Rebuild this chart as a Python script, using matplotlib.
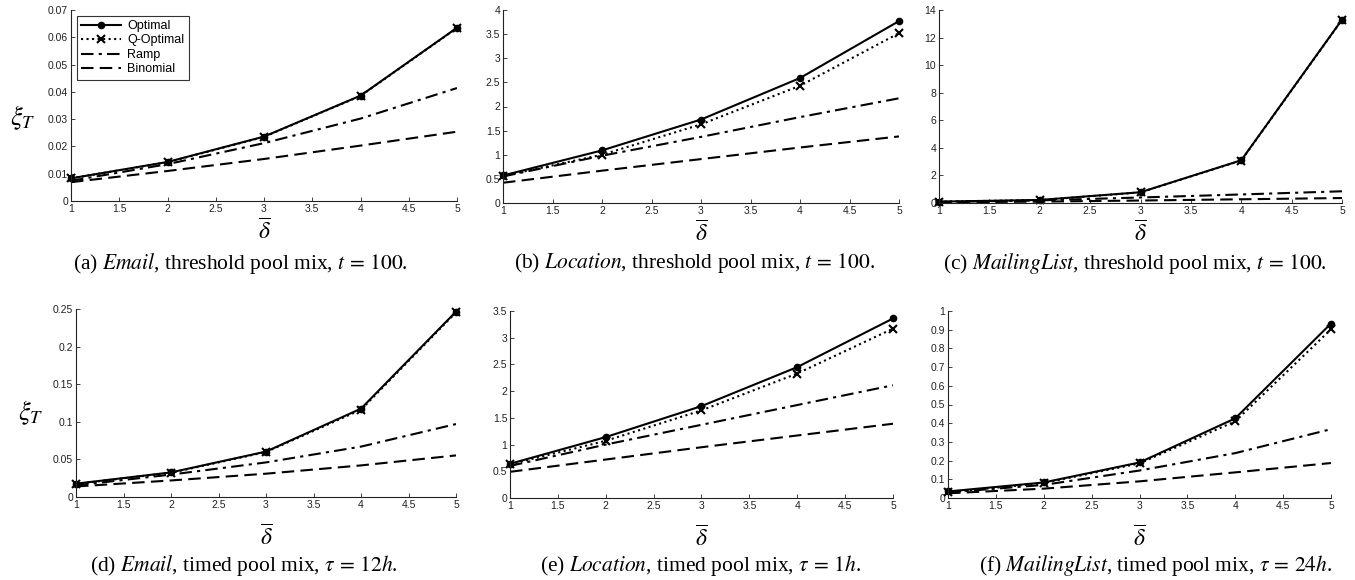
## xi_T versus delta-bar, six panels (threshold / timed pool mix)

import numpy as np
import matplotlib
matplotlib.use("Agg")
import matplotlib.pyplot as plt
from matplotlib.ticker import FormatStrFormatter, MultipleLocator

plt.rcParams['font.family'] = ['Liberation Sans', 'DejaVu Sans']
plt.rcParams['mathtext.fontset'] = 'stix'

delta = [1, 2, 3, 4, 5]
labels = ['Optimal', 'Q-Optimal', 'Ramp', 'Binomial']

# (a) Email, threshold
a_opt = [0.0083, 0.0143, 0.0236, 0.0386, 0.0635]
a_qopt = [0.0083, 0.0142, 0.0235, 0.0385, 0.0634]
a_ramp = [0.0074, 0.0135, 0.0212, 0.0302, 0.0414]
a_bin = [0.0069, 0.0110, 0.0154, 0.0203, 0.0254]

# (b) Location, threshold
b_opt = [0.57, 1.09, 1.73, 2.59, 3.77]
b_qopt = [0.56, 1.00, 1.63, 2.43, 3.52]
b_ramp = [0.55, 0.98, 1.37, 1.78, 2.17]
b_bin = [0.42, 0.67, 0.91, 1.15, 1.38]

# (c) MailingList, threshold
c_opt = [0.10, 0.22, 0.78, 3.10, 13.30]
c_qopt = [0.10, 0.21, 0.77, 3.08, 13.28]
c_ramp = [0.08, 0.19, 0.40, 0.62, 0.85]
c_bin = [0.05, 0.10, 0.18, 0.27, 0.36]

# (d) Email, timed
d_opt = [0.0177, 0.0327, 0.0604, 0.1175, 0.2465]
d_qopt = [0.0174, 0.0322, 0.0598, 0.1160, 0.2455]
d_ramp = [0.0155, 0.0298, 0.0460, 0.0670, 0.0970]
d_bin = [0.0140, 0.0220, 0.0310, 0.0420, 0.0553]

# (e) Location, timed
e_opt = [0.64, 1.14, 1.72, 2.45, 3.36]
e_qopt = [0.63, 1.07, 1.64, 2.33, 3.17]
e_ramp = [0.60, 1.00, 1.37, 1.74, 2.11]
e_bin = [0.49, 0.72, 0.95, 1.17, 1.39]

# (f) MailingList, timed
f_opt = [0.035, 0.083, 0.190, 0.426, 0.933]
f_qopt = [0.030, 0.080, 0.185, 0.410, 0.902]
f_ramp = [0.030, 0.070, 0.147, 0.240, 0.368]
f_bin = [0.025, 0.050, 0.089, 0.137, 0.187]

captions = [
    r'(a) $\mathit{Email}$, threshold pool mix, $t\,=\,100$.',
    r'(b) $\mathit{Location}$, threshold pool mix, $t\,=\,100$.',
    r'(c) $\mathit{MailingList}$, threshold pool mix, $t\,=\,100$.',
    r'(d) $\mathit{Email}$, timed pool mix, $\tau\,=\,12h$.',
    r'(e) $\mathit{Location}$, timed pool mix, $\tau\,=\,1h$.',
    r'(f) $\mathit{MailingList}$, timed pool mix, $\tau\,=\,24h$.',
]
ylims = [0.07, 4, 14, 0.25, 3.5, 1]
ysteps = [0.01, 0.5, 2, 0.05, 0.5, 0.1]
series = [
    (a_opt, a_qopt, a_ramp, a_bin),
    (b_opt, b_qopt, b_ramp, b_bin),
    (c_opt, c_qopt, c_ramp, c_bin),
    (d_opt, d_qopt, d_ramp, d_bin),
    (e_opt, e_qopt, e_ramp, e_bin),
    (f_opt, f_qopt, f_ramp, f_bin),
]

W, H = 1355.0, 580.0
# axes boxes in pixels: left, top, right, bottom
boxes = [
    (71, 10, 457, 201), (503, 10, 899, 203), (939, 10, 1342, 203),
    (76, 309, 456, 497), (510, 311, 893, 498), (948, 311, 1331, 498),
]
cap_x = [240, 695, 1135, 244, 700, 1156]

fig = plt.figure(figsize=(W / 100, H / 100), dpi=100)

for i in range(6):
    l, t, r, b = boxes[i]
    ax = fig.add_axes([l / W, 1 - b / H, (r - l) / W, (b - t) / H])
    opt, qopt, ramp, binom = series[i]
    ax.plot(delta, opt, '-', color='k', lw=1.5, marker='o', ms=4.5, clip_on=False, label=labels[0])
    ax.plot(delta, qopt, ':', color='k', lw=1.5, marker='x', ms=5.5, mew=1.5, clip_on=False, label=labels[1])
    ax.plot(delta, ramp, color='k', lw=1.5, dashes=(6, 2.5, 1.5, 2.5), label=labels[2])
    ax.plot(delta, binom, color='k', lw=1.5, dashes=(6, 3), label=labels[3])

    ax.set_xlim(1, 5)
    ax.set_ylim(0, ylims[i])
    ax.xaxis.set_major_locator(MultipleLocator(0.5))
    ax.yaxis.set_major_locator(MultipleLocator(ysteps[i]))
    ax.xaxis.set_major_formatter(FormatStrFormatter('%g'))
    ax.yaxis.set_major_formatter(FormatStrFormatter('%g'))
    ax.tick_params(direction='in', length=3, width=0.6, labelsize=7.5, pad=2, colors='#222222')
    for s in ['top', 'right']:
        ax.spines[s].set_visible(False)
    for s in ['left', 'bottom']:
        ax.spines[s].set_linewidth(0.8)
        ax.spines[s].set_color('#222222')

    if i < 3:
        ax.set_xlabel(r'$\overline{\delta}$', fontsize=17, labelpad=4)
        cy = 263
    else:
        ax.set_xlabel(r'$\overline{\delta}$', fontsize=17, labelpad=11)
        cy = 566
    fig.text(cap_x[i] / W, 1 - cy / H, captions[i], ha='center', va='center',
             fontsize=15.5, family='Liberation Serif')

    if i == 0:
        leg = ax.legend(loc='upper left', fontsize=9, handlelength=3.2, frameon=True,
                        fancybox=False, borderaxespad=0.45, labelspacing=0.2,
                        handletextpad=0.5, borderpad=0.35)
        leg.get_frame().set_edgecolor('k')
        leg.get_frame().set_linewidth(0.8)

fig.text(10 / W, 1 - 118 / H, r'$\xi_T$', ha='left', va='center', fontsize=19)
fig.text(18 / W, 1 - 413 / H, r'$\xi_T$', ha='left', va='center', fontsize=19)

plt.savefig('out.png', dpi=100)
